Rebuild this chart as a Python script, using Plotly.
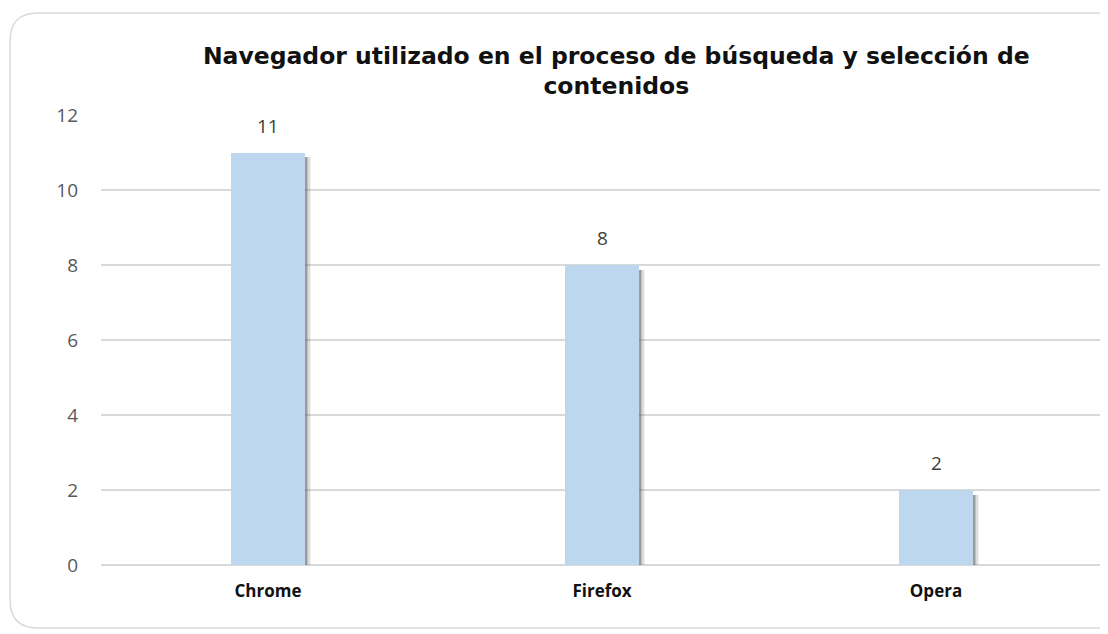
import plotly.graph_objects as go

categories = ["Chrome", "Firefox", "Opera"]
values = [11, 8, 2]
y_ticks = [0, 2, 4, 6, 8, 10, 12]

BAR_W = 0.22
fig = go.Figure()
# soft shadow layers
for off, alpha in [(0.02, 0.07), (0.015, 0.13), (0.01, 0.22), (0.006, 0.3)]:
    fig.add_trace(go.Bar(
        x=categories, y=values, width=BAR_W, offset=-BAR_W / 2 + off,
        marker=dict(color=f"rgba(80,80,80,{alpha})", line=dict(width=0)),
        hoverinfo="skip", showlegend=False, base=-0.12,
    ))
fig.add_trace(go.Bar(
    x=categories, y=values, width=BAR_W, offset=-BAR_W / 2,
    marker=dict(color="#BDD7EE", line=dict(width=0)),
    showlegend=False,
))
for c, v in zip(categories, values):
    fig.add_annotation(x=c, y=v, text=str(v), showarrow=False, yanchor="bottom",
                       yshift=12, font=dict(family="Open Sans, sans-serif", size=19, color="#404040"))

# page has an 8px body margin; figure sized to fill the 1108x634 window
W, H = 1100, 626
L, R, T, B = 93, 5, 107, 69
fig.update_layout(
    width=W, height=H,
    barmode="overlay",
    paper_bgcolor="white", plot_bgcolor="white",
    margin=dict(l=L, r=R, t=T, b=B),
    title=dict(
        text="<b>Navegador utilizado en el proceso de búsqueda y selección de<br>contenidos</b>",
        x=0.553, xanchor="center", y=0.911, yanchor="middle",
        font=dict(family="DejaVu Sans, sans-serif", size=23.5, color="#111111"),
    ),
    xaxis=dict(
        showgrid=False, showline=False, ticks="",
        tickfont=dict(family="Open Sans, sans-serif", size=17, color="#111111", weight="bold"),
        range=[-0.5, 2.5], ticklabelstandoff=14,
    ),
    yaxis=dict(
        range=[0, 12], tickvals=y_ticks, showgrid=True, gridcolor="#D9D9D9", gridwidth=1.5,
        zeroline=True, zerolinecolor="#D9D9D9", zerolinewidth=1.5, showline=False, ticks="",
        ticklabelstandoff=22,
        tickfont=dict(family="Open Sans, sans-serif", size=19, color="#595959"),
    ),
    bargap=0,
)

# rounded border around the chart, page pixel coords -> paper coords
def px(x):
    return (x - 8 - L) / (W - L - R)
def py(y):
    return (H - B - (y - 8)) / (H - T - B)
x0, y0, x1, y1, r = 10, 13, 1130, 628, 28
path = (f"M {px(x0+r)} {py(y0)} L {px(x1)} {py(y0)} L {px(x1)} {py(y1)} "
        f"L {px(x0+r)} {py(y1)} Q {px(x0)} {py(y1)} {px(x0)} {py(y1-r)} "
        f"L {px(x0)} {py(y0+r)} Q {px(x0)} {py(y0)} {px(x0+r)} {py(y0)}")
fig.layout.shapes = [dict(type="path", xref="paper", yref="paper", path=path,
                          line=dict(color="#D9D9D9", width=1.5), layer="below")]

fig.write_html("out.html")
